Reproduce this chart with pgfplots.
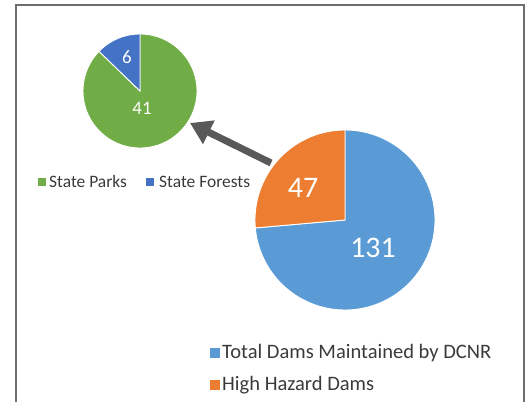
\documentclass[border=0pt]{standalone}
\usepackage{pgfplots}
\usepackage{pgfplotstable}
\pgfplotsset{compat=1.18}
\usetikzlibrary{arrows.meta}
\usepackage{fontspec}
\setmainfont{Carlito}
\definecolor{cblue}{HTML}{5B9BD5}
\definecolor{corange}{HTML}{ED7D31}
\definecolor{cgreen}{HTML}{70AD47}
\definecolor{cdblue}{HTML}{4472C4}
\definecolor{ctext}{HTML}{3A3A3A}
\definecolor{carrow}{HTML}{595959}
\definecolor{cframe}{HTML}{6E6E6E}

\pgfplotstableread{
label value
Total 131
High 47
}\bigdata
\pgfplotstableread{
label value
Parks 41
Forests 6
}\smalldata

\pgfplotstablegetelem{0}{value}\of\bigdata \let\bA\pgfplotsretval
\pgfplotstablegetelem{1}{value}\of\bigdata \let\bB\pgfplotsretval
\pgfplotstablegetelem{0}{value}\of\smalldata \let\sA\pgfplotsretval
\pgfplotstablegetelem{1}{value}\of\smalldata \let\sB\pgfplotsretval
\pgfmathsetmacro\angBig{\bA/(\bA+\bB)*360}
\pgfmathsetmacro\angSmall{\sB/(\sA+\sB)*360}

\begin{document}
\begin{tikzpicture}
\begin{axis}[
  x=1bp, y=1bp,
  xmin=0, xmax=530, ymin=0, ymax=402,
  hide axis, clip=false,
  axis line style={draw=none},
]
\path[use as bounding box] (axis cs:0,0) rectangle (axis cs:530,402);
% frame
\draw[cframe, line width=2.2bp] (axis cs:16,0) -- (axis cs:16,397) -- (axis cs:524,397) -- (axis cs:524,0);

% big pie: centre (345,182), r=90
\addplot[fill=cblue, draw=white, line width=0.9bp, domain={90-\angBig}:90, samples=120]
  ({345+90*cos(x)}, {182+90*sin(x)}) -- (axis cs:345,182) -- cycle;
\addplot[fill=corange, draw=white, line width=0.9bp, domain=90:{90+360-\angBig}, samples=60]
  ({345+90*cos(x)}, {182+90*sin(x)}) -- (axis cs:345,182) -- cycle;

% small pie: centre (140,311), r=57
\addplot[fill=cgreen, draw=white, line width=0.9bp, domain={90+\angSmall}:450, samples=120]
  ({140+57*cos(x)}, {311+57*sin(x)}) -- (axis cs:140,311) -- cycle;
\addplot[fill=cdblue, draw=white, line width=0.9bp, domain=90:{90+\angSmall}, samples=30]
  ({140+57*cos(x)}, {311+57*sin(x)}) -- (axis cs:140,311) -- cycle;

% data labels
\node[white, font=\fontsize{30}{34}\selectfont] at (axis cs:373,154) {\bA};
\node[white, font=\fontsize{30}{34}\selectfont] at (axis cs:303,214) {\bB};
\node[white, font=\fontsize{19}{22}\selectfont] at (axis cs:142,294) {\sA};
\node[white, font=\fontsize{19}{22}\selectfont] at (axis cs:127,345) {\sB};

% arrow
\draw[carrow, line width=7bp, -{Triangle[length=21bp,width=25bp]}] (axis cs:271,239) -- (axis cs:190,279);

% small legend
\fill[cgreen] (axis cs:38,216) rectangle (axis cs:46,224);
\node[anchor=west, ctext, font=\fontsize{17.5}{20}\selectfont, inner sep=0pt] at (axis cs:49,220) {State Parks};
\fill[cdblue] (axis cs:146,216) rectangle (axis cs:154,224);
\node[anchor=west, ctext, font=\fontsize{17.5}{20}\selectfont, inner sep=0pt] at (axis cs:159,220) {State Forests};

% big legend
\fill[cblue] (axis cs:209.5,44) rectangle (axis cs:219.5,54);
\node[anchor=west, ctext, font=\fontsize{20.6}{24}\selectfont, inner sep=0pt] at (axis cs:222,49) {Total Dams Maintained by DCNR};
\fill[corange] (axis cs:209.5,12) rectangle (axis cs:219.5,22);
\node[anchor=west, ctext, font=\fontsize{20.6}{24}\selectfont, inner sep=0pt] at (axis cs:222,17) {High Hazard Dams};
\end{axis}
\end{tikzpicture}
\end{document}
